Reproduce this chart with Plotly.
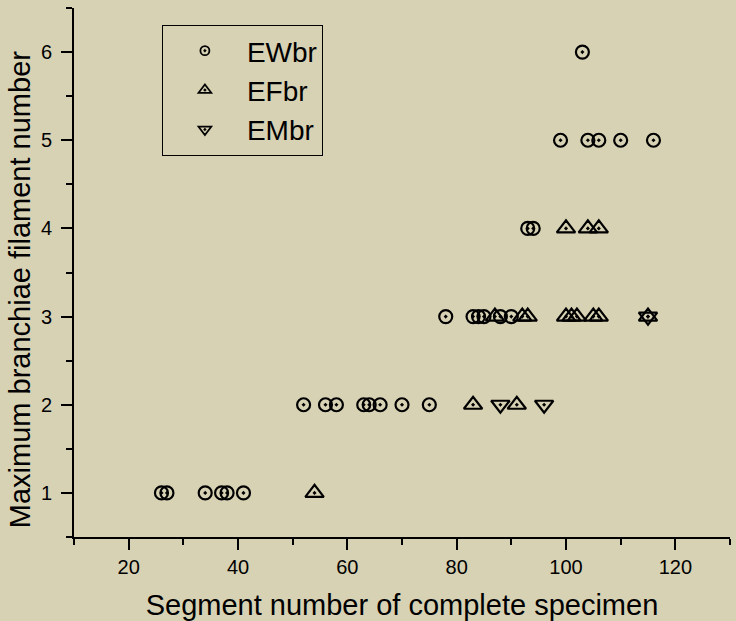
import plotly.graph_objects as go

# EWbr
ew_x = [26, 27, 34, 37, 38, 41,
        52, 56, 58, 63, 64, 66, 70, 75,
        78, 83, 84, 85, 88, 90,
        93, 94,
        99, 104, 106, 110, 116,
        103]
ew_y = [1, 1, 1, 1, 1, 1,
        2, 2, 2, 2, 2, 2, 2, 2,
        3, 3, 3, 3, 3, 3,
        4, 4,
        5, 5, 5, 5, 5,
        6]
# EFbr
ef_x = [54, 83, 91, 87, 92, 93, 100, 101, 102, 105, 106, 115, 100, 104, 106]
ef_y = [1, 2, 2, 3, 3, 3, 3, 3, 3, 3, 3, 3, 4, 4, 4]
# EMbr
em_x = [88, 96, 115]
em_y = [2, 2, 3]

names = ["EWbr", "EFbr", "EMbr"]
symbols = ["circle-open-dot", "triangle-up-open-dot", "triangle-down-open-dot"]
xs = [ew_x, ef_x, em_x]
ys = [ew_y, ef_y, em_y]
sizes = [13, 16, 16]

fig = go.Figure()
for n, s, x, y, sz in zip(names, symbols, xs, ys, sizes):
    fig.add_trace(go.Scatter(x=x, y=y, mode="markers", name=n, showlegend=False,
                             marker=dict(symbol=s, size=sz, color="black",
                                         line=dict(color="black", width=2.2))))
for n, s, sz in zip(names, symbols, [9, 11, 11]):
    fig.add_trace(go.Scatter(x=[None], y=[None], mode="markers", name=n,
                             marker=dict(symbol=s, size=sz, color="black",
                                         line=dict(color="black", width=1.8))))

bg = "rgb(216,210,180)"
fig.update_layout(
    width=736, height=621,
    margin=dict(l=74, r=6, t=8, b=84),
    paper_bgcolor=bg, plot_bgcolor=bg,
    font=dict(family="Liberation Sans, Arial, sans-serif", color="black", size=20),
    legend=dict(x=0.134, y=0.968, xanchor="left", yanchor="top",
                bgcolor="rgba(0,0,0,0)", bordercolor="black", borderwidth=1,
                font=dict(size=28), itemwidth=74, tracegroupgap=0),
    showlegend=True,
    annotations=[dict(text="Maximum branchiae filament number", textangle=-90,
                      xref="paper", yref="paper", x=-0.082, y=0.467,
                      xanchor="center", yanchor="middle", showarrow=False,
                      font=dict(size=29))],
)
fig.update_xaxes(range=[10, 130], showgrid=False, zeroline=False, automargin=False,
                 showline=True, linecolor="black", linewidth=2,
                 ticks="outside", ticklen=11, tickwidth=2, tickcolor="black",
                 tick0=20, dtick=20,
                 minor=dict(ticks="outside", ticklen=6, tickwidth=2, tickcolor="black", dtick=10, tick0=10),
                 tickfont=dict(size=20),
                 title=dict(text="Segment number of complete specimen", font=dict(size=29), standoff=19))
fig.update_yaxes(range=[0.5, 6.5], showgrid=False, zeroline=False, automargin=False,
                 showline=True, linecolor="black", linewidth=2,
                 ticks="outside", ticklen=11, tickwidth=2, tickcolor="black",
                 tick0=1, dtick=1, ticklabelstandoff=5,
                 minor=dict(ticks="outside", ticklen=6, tickwidth=2, tickcolor="black", dtick=0.5, tick0=0.5),
                 tickfont=dict(size=20))

fig.write_html("out.html")
